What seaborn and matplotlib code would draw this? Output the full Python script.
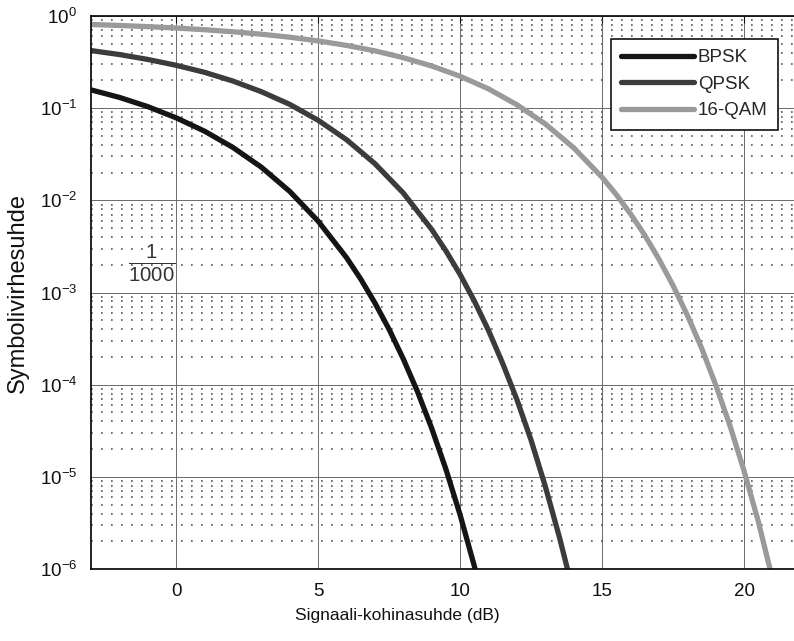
import numpy as np
import pandas as pd
import matplotlib
matplotlib.use('Agg')
import matplotlib.pyplot as plt
import seaborn as sns
from matplotlib.ticker import LogLocator, NullFormatter, FixedLocator

# values (Es/N0 in dB vs symbol error rate)
bpsk_x = [-3, -2, -1, 0, 1, 2, 3, 4, 5, 6, 6.5, 7, 7.5, 8, 8.5, 9, 9.5, 10, 10.5, 11]
bpsk_y = [0.158, 0.131, 0.104, 0.0786, 0.0563, 0.0375, 0.0229, 0.0125, 5.95e-3, 2.39e-3,
          1.40e-3, 7.7e-4, 3.98e-4, 1.9e-4, 8.4e-5, 3.36e-5, 1.21e-5, 3.87e-6, 1.08e-6, 2.6e-7]

qpsk_x = [-3, -2, -1, 0, 1, 2, 3, 4, 5, 6, 7, 8, 9, 9.5, 10, 10.5, 11, 11.5, 12, 12.5, 13, 13.5, 14]
qpsk_y = [0.422, 0.382, 0.338, 0.292, 0.245, 0.197, 0.151, 0.110, 0.074, 0.0455, 0.0250, 0.0120,
          4.83e-3, 2.83e-3, 1.57e-3, 8.1e-4, 3.88e-4, 1.7e-4, 6.9e-5, 2.5e-5, 7.9e-6, 2.2e-6, 5.4e-7]

qam_x = [-3, -2, -1, 0, 1, 2, 3, 4, 5, 6, 7, 8, 9, 10, 11, 12, 13, 14, 15, 15.5, 16, 16.5,
         17, 17.5, 18, 18.5, 19, 19.5, 20, 20.5, 21, 21.5]
qam_y = [0.810, 0.790, 0.767, 0.741, 0.710, 0.675, 0.635, 0.589, 0.537, 0.480, 0.419, 0.353,
         0.287, 0.222, 0.162, 0.109, 0.0675, 0.0372, 0.0178, 0.01155, 7.15e-3, 4.2e-3,
         2.31e-3, 1.19e-3, 5.7e-4, 2.52e-4, 1.0e-4, 3.63e-5, 1.16e-5, 3.3e-6, 7.8e-7, 1.6e-7]

labels = ['BPSK', 'QPSK', '16-QAM']
colors = ['#151515', '#3c3c3c', '#9a9a9a']
x_ticks = [0, 5, 10, 15, 20]

df = pd.concat([
    pd.DataFrame({'snr': bpsk_x, 'ser': bpsk_y, 'scheme': labels[0]}),
    pd.DataFrame({'snr': qpsk_x, 'ser': qpsk_y, 'scheme': labels[1]}),
    pd.DataFrame({'snr': qam_x, 'ser': qam_y, 'scheme': labels[2]}),
])

sns.set_style('white')
plt.rcParams['font.family'] = ['Liberation Sans', 'DejaVu Sans']
plt.rcParams['mathtext.fontset'] = 'custom'
plt.rcParams['mathtext.rm'] = 'Liberation Sans'
plt.rcParams['mathtext.it'] = 'Liberation Sans:italic'

fig = plt.figure(figsize=(7.94, 6.41), dpi=100)
# axes runs past the right edge, like the cropped scan
ax = fig.add_axes([0.1146, 0.1123, 0.894, 0.8627])

sns.lineplot(data=df, x='snr', y='ser', hue='scheme', palette=colors,
             hue_order=labels, linewidth=3.8, sort=False, legend=False, ax=ax)

ax.set_yscale('log')
ax.set_xlim(-3, 22)
ax.set_ylim(1e-6, 1)
ax.xaxis.set_major_locator(FixedLocator(x_ticks))
ax.yaxis.set_major_locator(LogLocator(base=10, numticks=10))
ax.yaxis.set_minor_locator(LogLocator(base=10, subs=np.arange(2, 10), numticks=20))
ax.yaxis.set_minor_formatter(NullFormatter())

ax.grid(True, which='major', axis='both', color='#6a6a6a', linewidth=0.7, linestyle='-')
ax.grid(True, which='minor', axis='y', color='#555555', linewidth=1.2, linestyle=(0, (1, 5)))
ax.set_axisbelow(True)

for s in ax.spines.values():
    s.set_color('#111111')
    s.set_linewidth(1.3)

ax.tick_params(axis='both', which='both', direction='in', top=True, right=True,
               colors='#111111', labelsize=13.5)
ax.tick_params(axis='both', which='major', length=5)
ax.tick_params(axis='y', which='minor', length=3)
ax.tick_params(axis='x', pad=10)
ax.tick_params(axis='y', pad=10)

ax.set_xlabel('Signaali-kohinasuhde (dB)', fontsize=12.5, labelpad=5, color='#111111')
ax.xaxis.set_label_coords((397 - 91) / 710, -0.07)
ax.set_ylabel('Symbolivirhesuhde', fontsize=17, labelpad=8, color='#111111')

leg = ax.legend(ax.lines[:3], labels, loc='upper right',
                bbox_to_anchor=(778 / 794, 1 - 39 / 641), bbox_transform=fig.transFigure,
                borderaxespad=0, fancybox=False, framealpha=1, edgecolor='#111111',
                fontsize=13.5, handlelength=3.9, handletextpad=0.2, labelspacing=0.5,
                borderpad=0.55)
leg.get_frame().set_linewidth(1.2)

# pencil note on the scan
fig.text(152 / 794, 1 - 263 / 641, r'$\frac{1}{1000}$', fontsize=21, color='#333333',
         ha='center', va='center')

fig.savefig('out.png', dpi=100)
